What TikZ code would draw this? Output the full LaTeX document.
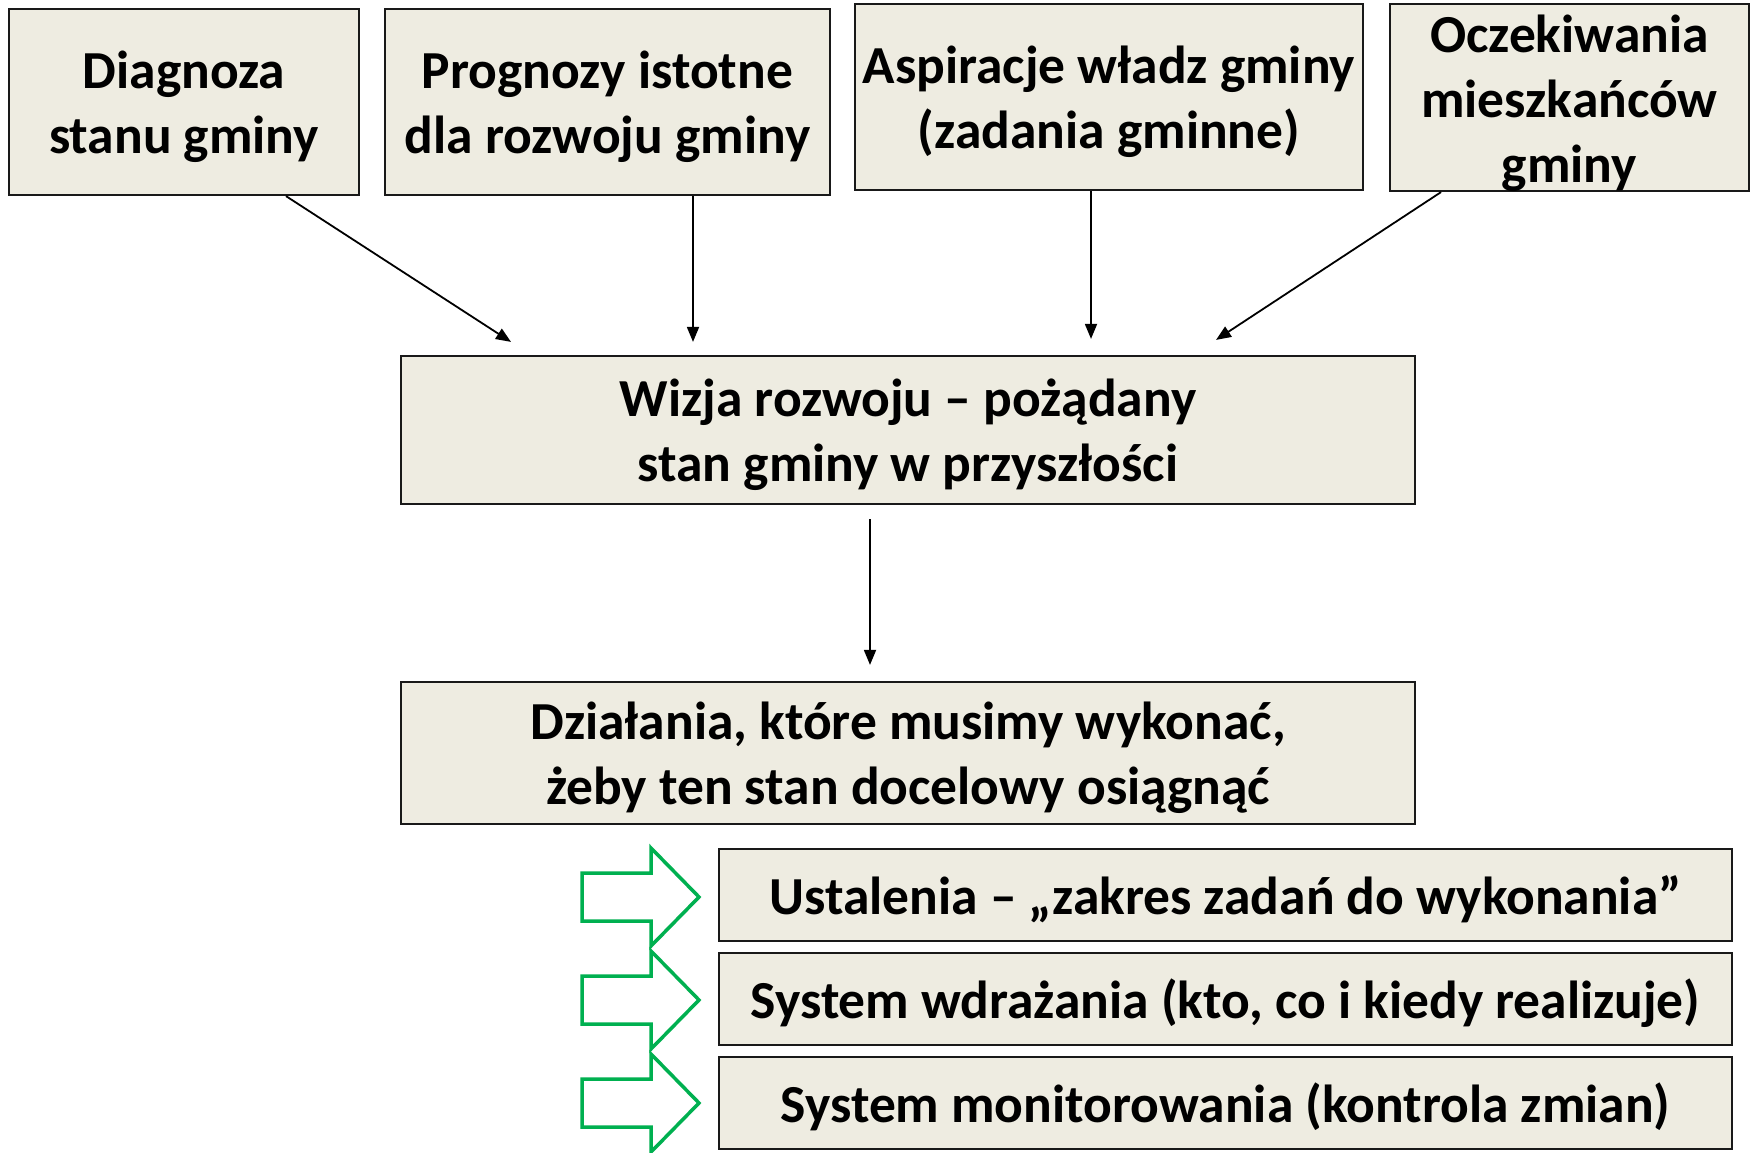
\documentclass[tikz,border=0pt]{standalone}
\usepackage{fontspec}
\setmainfont{Carlito}
\usetikzlibrary{arrows.meta,calc}
\definecolor{boxfill}{RGB}{238,236,225}
\definecolor{okgreen}{RGB}{0,176,80}
\newcommand\bxt[1]{\raisebox{0pt}[\dimexpr\height+12pt\relax][\depth]{\begin{tabular}{@{}c@{}}#1\end{tabular}}}
\newcommand\bxz[1]{\raisebox{-13.5pt}[0pt][0pt]{\begin{tabular}{@{}c@{}}#1\end{tabular}}}
\begin{document}
\begin{tikzpicture}[x=1pt,y=-1pt,
  box/.style={draw=black!90,line width=2.2pt,fill=boxfill,inner sep=0pt,
    font=\fontsize{53.5}{65}\selectfont\bfseries},
  arr/.style={line width=1.8pt,-{Triangle[length=15pt,width=12pt]}},
  garrow/.style={draw=okgreen,line width=3.5pt,line join=miter,fill=white}]
\fill[white] (0,0) rectangle (1753,1152);
\useasboundingbox (0,0) rectangle (1753,1152);

\node[box,minimum width=350pt,minimum height=186pt] (b1) at (184,102) {\bxt{Diagnoza\\stanu gminy}};
\node[box,minimum width=445pt,minimum height=186pt] (b2) at (607.5,102) {\bxt{Prognozy istotne\\dla rozwoju gminy}};
\node[box,minimum width=508pt,minimum height=186pt] (b3) at (1109,97) {\bxt{Aspiracje władz gminy\\(zadania gminne)}};
\node[box,minimum width=359pt,minimum height=187pt] (b4) at (1569.5,97.5) {\bxz{Oczekiwania\\mieszkańców\\gminy}};

\node[box,minimum width=1014pt,minimum height=148pt] (wizja) at (908,430) {\bxt{Wizja rozwoju – pożądany\\stan gminy w przyszłości}};
\node[box,minimum width=1014pt,minimum height=140pt] (dzial) at (908,753) {\bxt{Działania, które musimy wykonać,\\żeby ten stan docelowy osiągnąć}};

\node[box,minimum width=1013pt,minimum height=92pt] (u1) at (1225.5,895) {\bxt{Ustalenia – „zakres zadań do wykonania”}};
\node[box,minimum width=1013pt,minimum height=92pt] (u2) at (1225.5,999) {\bxt{System wdrażania (kto, co i kiedy realizuje)}};
\node[box,minimum width=1013pt,minimum height=92pt] (u3) at (1225.5,1103) {\bxt{System monitorowania (kontrola zmian)}};

\draw[arr] ([xshift=102pt]b1.south) -- ([xshift=-397pt,yshift=13pt]wizja.north);
\draw[arr] ([xshift=85.5pt]b2.south) -- ([xshift=-215pt,yshift=13pt]wizja.north);
\draw[arr] ([xshift=-18pt]b3.south) -- ([xshift=183pt,yshift=16pt]wizja.north);
\draw[arr] ([xshift=-128.5pt]b4.south) -- ([xshift=308pt,yshift=15pt]wizja.north);
\draw[arr] ([xshift=-38pt,yshift=-14pt]wizja.south) -- ([xshift=-38pt,yshift=16pt]dzial.north);

\foreach \c in {897,1000,1103}{
  \draw[garrow] (582,\c-24) -- (651,\c-24) -- (651,\c-49) -- (699,\c) -- (651,\c+49) -- (651,\c+24) -- (582,\c+24) -- cycle;
}
\end{tikzpicture}
\end{document}
